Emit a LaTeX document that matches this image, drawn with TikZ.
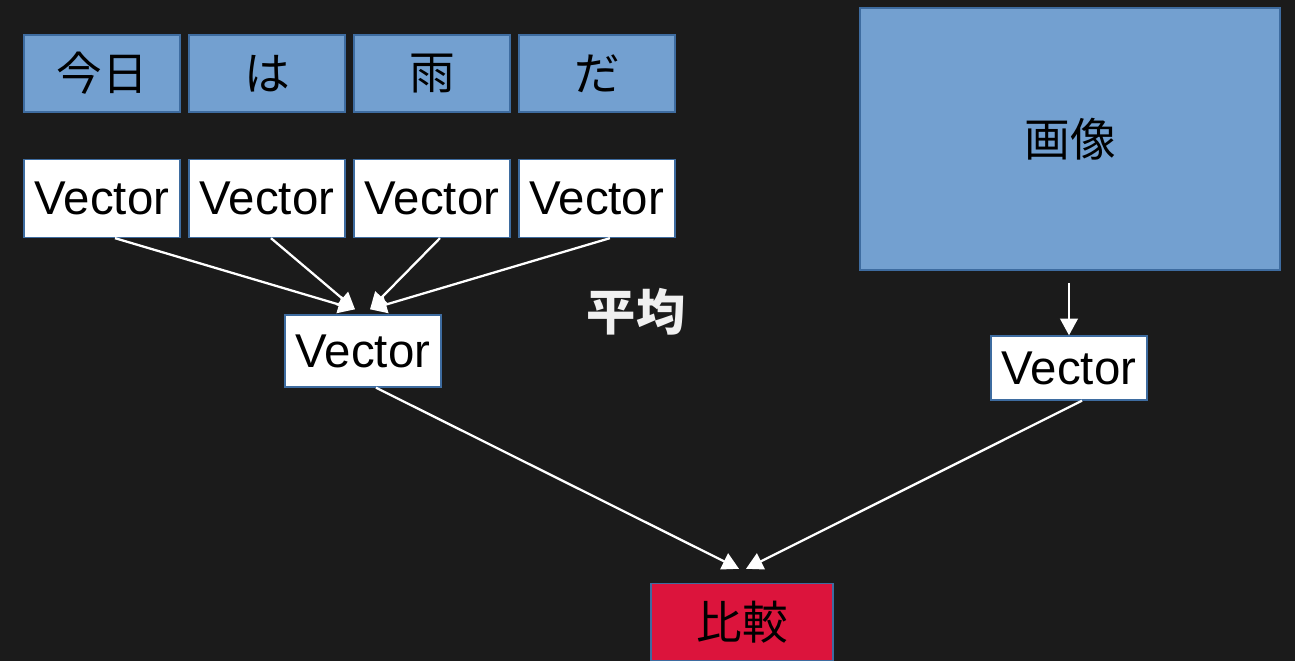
\documentclass[tikz,border=0pt]{standalone}
\usepackage{fontspec}
\setmainfont{Liberation Sans}
\newfontfamily\jpfont{Noto Sans CJK JP}
\usetikzlibrary{positioning, arrows.meta}
\definecolor{bgdark}{RGB}{27,27,27}
\definecolor{boxblue}{RGB}{115,160,208}
\definecolor{edgeblue}{RGB}{62,108,160}
\definecolor{cmpred}{RGB}{220,20,60}
\tikzset{
        >={Triangle[width=10pt,length=9.5pt]}, % solid heads
        every node/.style={font=\fontsize{27}{31}\selectfont},
        token/.style={draw=edgeblue, line width=0.8pt, fill=boxblue, inner sep=0pt,
                minimum width=3.12cm, minimum height=1.54cm, font=\jpfont\fontsize{26}{30}\selectfont},
        vec/.style={draw=edgeblue, line width=0.8pt, fill=white, inner sep=0pt,
                minimum width=3.12cm, minimum height=1.56cm},
        link/.style={->, white, line width=1.3pt}
        }
\begin{document}
\begin{tikzpicture}[x=0.02cm, y=-0.02cm, node distance=3.3cm]
        \fill[bgdark] (0,0) rectangle (1295,661);
        \clip (0,0) rectangle (1295,661);
        % sentence tokens and their vectors
        \node[token](w1) at (102,73.5){今日};
        \node[token, right of=w1](w2){は};
        \node[token, right of=w2](w3){雨};
        \node[token, right of=w3](w4){だ};
        \node[vec, below of=w1, node distance=2.5cm](v1){Vector};
        \node[vec, right of=v1](v2){Vector};
        \node[vec, right of=v2](v3){Vector};
        \node[vec, right of=v3](v4){Vector};
        \node[vec, minimum height=1.44cm](avg) at (363,351){Vector};
        \node[text=gray!12, font=\jpfont\bfseries\fontsize{28}{32}\selectfont](mean) at (636,312){平均};
        % image side
        \node[token, minimum width=8.4cm, minimum height=5.24cm](img) at (1070,139){画像};
        \node[vec, minimum height=1.28cm](iv) at (1069,368){Vector};
        \coordinate (imgout) at (1069,283);
        \node[vec, fill=cmpred, minimum width=3.64cm, minimum height=1.54cm, font=\jpfont\fontsize{26}{30}\selectfont](cmp) at (742,622){比較};
        \draw[link] ([xshift=0.26cm]v1.south) -- ([xshift=-0.16cm, yshift=0.1cm]avg.north);
        \draw[link] ([xshift=0.08cm]v2.south) -- ([xshift=-0.16cm, yshift=0.1cm]avg.north);
        \draw[link] ([xshift=0.16cm]v3.south) -- ([xshift=0.14cm, yshift=0.1cm]avg.north);
        \draw[link] ([xshift=0.26cm]v4.south) -- ([xshift=0.14cm, yshift=0.1cm]avg.north);
        \draw[link] (imgout) -- (iv.north);
        \draw[link] ([xshift=0.26cm]avg.south) -- ([xshift=-0.06cm, yshift=0.28cm]cmp.north);
        \draw[link] ([xshift=0.26cm]iv.south) -- ([xshift=0.08cm, yshift=0.28cm]cmp.north);
\end{tikzpicture}
\end{document}
